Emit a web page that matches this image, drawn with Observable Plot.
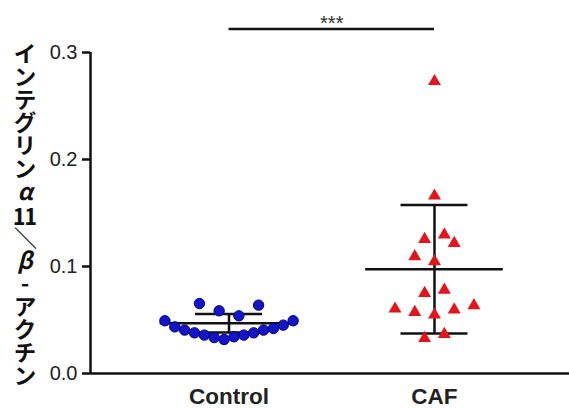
<!DOCTYPE html>
<html><head><meta charset="utf-8">
<script src="https://cdn.jsdelivr.net/npm/d3@7"></script>
<script src="https://cdn.jsdelivr.net/npm/@observablehq/plot@0.6"></script>
<style>
body{margin:0;background:#fff;}
#wrap{position:relative;width:569px;height:409px;}
#ylabel{position:absolute;left:13px;top:28px;height:372px;writing-mode:vertical-rl;text-orientation:upright;text-align:center;font-family:"Noto Sans CJK JP",sans-serif;font-weight:700;font-size:23px;line-height:1;color:#111;}
#ylabel .tcy{text-combine-upright:all;}
#ylabel .gr{font-style:italic;}
#ylabel .rot{display:inline-block;writing-mode:horizontal-tb;transform:scaleX(-1);width:1em;height:1em;text-align:center;}
</style></head><body>
<div id="wrap"><div id="ylabel">インテグリン<span class="gr">α</span><span class="tcy">11</span><span class="rot">／</span><span class="gr">β</span>-アクチン</div></div>
<script>
const categories = ["Control", "CAF"];
const controlValues = [0.0654, 0.0586, 0.0539, 0.0639,
  0.0493, 0.0436, 0.0406, 0.0380, 0.0359, 0.0336, 0.0318,
  0.0343, 0.0359, 0.0380, 0.0406, 0.0421, 0.0452, 0.0493];
const controlSlots = [-3, -1, 1, 3,
  -6.5, -5.5, -4.5, -3.5, -2.5, -1.5, -0.5,
  0.5, 1.5, 2.5, 3.5, 4.5, 5.5, 6.5];
const cafValues = [0.273, 0.166, 0.1255, 0.1296, 0.1218, 0.1093, 0.1047, 0.075, 0.078,
  0.0604, 0.0573, 0.0548, 0.0595, 0.0636, 0.033, 0.0367];
const cafSlots = [0, 0, -1, 1, 2, -2, 0, -1, 1, -4, -2, 0, 2, 4, -1, 1];
const groupMeans = [0.047, 0.0975];
const groupSDs = [0.0086, 0.060];
const yTicks = [0, 0.1, 0.2, 0.3];
const significance = ["***"];

const slotUnit = 0.048;
const xDomain = [-0.674, 1.657];
const idx = categories.map((c, i) => i);
const rows = [
  ...controlValues.map((v, k) => ({group: 0, value: v, slot: controlSlots[k]})),
  ...cafValues.map((v, k) => ({group: 1, value: v, slot: cafSlots[k]}))
];
const px = d => d.group + d.slot * slotUnit;

const chart = Plot.plot({
  width: 569, height: 409,
  marginLeft: 90, marginRight: 0, marginTop: 52, marginBottom: 36,
  style: {fontFamily: "'Liberation Sans', Arial, sans-serif", background: "#fff", color: "#222"},
  x: {type: "linear", domain: xDomain},
  y: {domain: [0, 0.3]},
  marks: [
    Plot.axisY(yTicks, {tickFormat: d3.format(".1f"), tickSize: 8, tickPadding: 5, fontSize: 20, strokeWidth: 2.5, stroke: "#111", label: null}),
    Plot.axisX(idx, {tickFormat: i => categories[i], tickSize: 0, tickPadding: 15, fontSize: 22.5, fontWeight: "bold", label: null}),
    Plot.ruleX([xDomain[0]], {x: d => d, y1: () => 0, y2: () => 0.3, strokeWidth: 2.5, stroke: "#111"}),
    Plot.ruleY([0], {strokeWidth: 2.5, stroke: "#111"}),
    // mean lines
    Plot.ruleY(idx, {y: i => groupMeans[i], x1: i => i - 0.335, x2: i => i + 0.335, strokeWidth: 2.5, stroke: "#111"}),
    // SD caps
    Plot.ruleY(idx, {y: i => groupMeans[i] + groupSDs[i], x1: i => i - 0.163, x2: i => i + 0.163, strokeWidth: 2.5, stroke: "#111"}),
    Plot.ruleY(idx, {y: i => groupMeans[i] - groupSDs[i], x1: i => i - 0.163, x2: i => i + 0.163, strokeWidth: 2.5, stroke: "#111"}),
    Plot.ruleX(idx, {x: i => i, y1: i => groupMeans[i] - groupSDs[i], y2: i => groupMeans[i] + groupSDs[i], strokeWidth: 2.5, stroke: "#111"}),
    // points
    Plot.dot(rows.filter(d => d.group === 0), {x: px, y: "value", r: 5.2, symbol: "circle", fill: "#1414c8", stroke: "#00007a", strokeWidth: 1}),
    Plot.dot(rows.filter(d => d.group === 1), {x: px, y: "value", r: 4.8, symbol: "triangle", fill: "#e3141b", stroke: "none"}),
    // significance
    Plot.ruleY(significance, {y: () => 0.322, x1: () => 0, x2: () => 1, strokeWidth: 2.5, stroke: "#111"}),
    Plot.text(significance, {x: () => 0.5, y: () => 0.327, text: d => d, fontSize: 20, fill: "#333"})
  ]
});
document.getElementById("wrap").prepend(chart);
chart.style.position = "absolute";
chart.style.left = "0";
chart.style.top = "0";
</script>
</body></html>
